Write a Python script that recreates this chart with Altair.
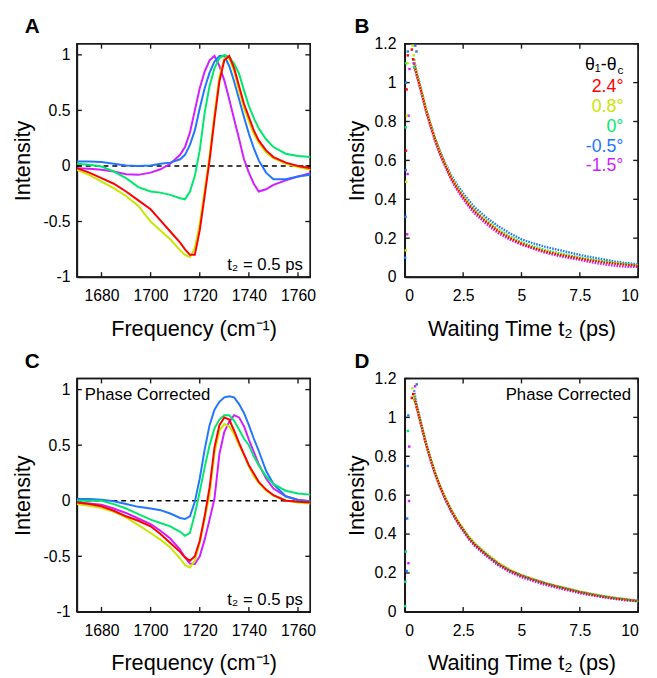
import altair as alt
import pandas as pd

FONT = "Liberation Sans"

series_names = ["2.4°", "0.8°", "0°", "-0.5°", "-1.5°"]
series_colors = ["#ff0000", "#c8e600", "#00e86b", "#2176ff", "#d21eff"]

# ---------------- Panel A / C : spectra ----------------
freq = [1670, 1675, 1680, 1685, 1690, 1695, 1700, 1704, 1708, 1712, 1714, 1716,
        1718, 1720, 1722, 1724, 1726, 1728, 1730, 1732, 1734, 1736, 1738, 1740,
        1742, 1744, 1747, 1750, 1755, 1760, 1765]

A_red = [-0.02, -0.06, -0.11, -0.16, -0.23, -0.31, -0.39, -0.49, -0.59, -0.69, -0.75, -0.80,
         -0.80, -0.58, -0.27, 0.05, 0.42, 0.76, 0.95, 0.99, 0.88, 0.72, 0.56, 0.44,
         0.32, 0.23, 0.14, 0.08, 0.03, 0.0, -0.02]
A_yellow = [-0.035, -0.08, -0.14, -0.20, -0.27, -0.36, -0.50, -0.58, -0.66, -0.76, -0.80, -0.82,
            -0.74, -0.52, -0.22, 0.09, 0.47, 0.80, 0.97, 0.97, 0.85, 0.68, 0.52, 0.40,
            0.29, 0.21, 0.12, 0.07, 0.02, -0.01, -0.035]
A_green = [0.02, 0.01, -0.005, -0.05, -0.11, -0.19, -0.23, -0.24, -0.26, -0.29, -0.30, -0.23,
           -0.09, 0.14, 0.48, 0.72, 0.88, 0.97, 1.0, 0.98, 0.92, 0.83, 0.68, 0.54,
           0.43, 0.34, 0.24, 0.17, 0.11, 0.09, 0.08]
A_blue = [0.04, 0.04, 0.035, 0.02, 0.005, 0.0, 0.005, 0.02, 0.03, 0.06, 0.10, 0.19,
          0.32, 0.52, 0.70, 0.84, 0.94, 0.99, 0.99, 0.90, 0.76, 0.60, 0.44, 0.29,
          0.16, 0.05, -0.06, -0.12, -0.12, -0.095, -0.08]
A_magenta = [-0.02, -0.025, -0.035, -0.05, -0.075, -0.08, -0.06, -0.03, 0.02, 0.10, 0.17, 0.30,
             0.50, 0.70, 0.85, 0.95, 0.99, 0.90, 0.77, 0.60, 0.42, 0.245, 0.06, -0.06,
             -0.16, -0.23, -0.21, -0.17, -0.13, -0.095, -0.065]

C_red = [-0.015, -0.03, -0.05, -0.09, -0.14, -0.18, -0.23, -0.30, -0.38, -0.46, -0.51, -0.54,
         -0.50, -0.36, -0.14, 0.12, 0.48, 0.68, 0.75, 0.73, 0.63, 0.52, 0.42, 0.32,
         0.245, 0.17, 0.10, 0.05, 0.0, -0.01, -0.015]
C_yellow = [-0.03, -0.045, -0.065, -0.10, -0.15, -0.22, -0.29, -0.35, -0.42, -0.52, -0.58, -0.60,
            -0.54, -0.38, -0.16, 0.05, 0.43, 0.63, 0.69, 0.67, 0.60, 0.50, 0.41, 0.31,
            0.22, 0.16, 0.09, 0.045, 0.005, -0.015, -0.025]
C_green = [0.0, 0.0, 0.0, -0.03, -0.07, -0.12, -0.17, -0.20, -0.23, -0.28, -0.315, -0.29,
           -0.12, 0.08, 0.30, 0.50, 0.65, 0.73, 0.77, 0.77, 0.72, 0.64, 0.56, 0.50,
           0.40, 0.32, 0.22, 0.15, 0.09, 0.065, 0.055]
C_blue = [0.015, 0.015, 0.01, -0.005, -0.03, -0.055, -0.07, -0.085, -0.115, -0.155, -0.165, -0.14,
          -0.01, 0.20, 0.46, 0.68, 0.82, 0.89, 0.93, 0.94, 0.93, 0.87, 0.79, 0.68,
          0.56, 0.45, 0.27, 0.15, 0.04, 0.005, -0.005]
C_magenta = [-0.015, -0.025, -0.035, -0.07, -0.11, -0.16, -0.21, -0.27, -0.34, -0.44, -0.51, -0.565,
             -0.57, -0.50, -0.35, -0.17, 0.02, 0.42, 0.62, 0.71, 0.77, 0.75, 0.67, 0.55,
             0.44, 0.33, 0.20, 0.11, 0.04, 0.01, -0.005]

# ---------------- Panel B / D : decays ----------------
t_grid = [0.4, 0.5, 0.7, 0.9, 1.1, 1.3, 1.5, 1.75, 2.0, 2.25, 2.5, 2.75, 3.0, 3.5,
          4.0, 4.5, 5.0, 5.5, 6.0, 6.5, 7.0, 7.5, 8.0, 8.5, 9.0, 9.5, 10.0]

B_red = [1.10, 1.045, 0.958, 0.862, 0.782, 0.706, 0.64, 0.57, 0.507, 0.456, 0.412, 0.372, 0.337, 0.283,
         0.236, 0.201, 0.172, 0.150, 0.132, 0.118, 0.106, 0.095, 0.085, 0.076, 0.069, 0.063, 0.058]
B_yellow = [1.12, 1.05, 0.962, 0.866, 0.786, 0.71, 0.644, 0.574, 0.511, 0.46, 0.417, 0.377, 0.342, 0.288,
            0.241, 0.206, 0.176, 0.154, 0.136, 0.122, 0.110, 0.098, 0.088, 0.079, 0.072, 0.065, 0.060]
B_green = [1.09, 1.05, 0.96, 0.865, 0.785, 0.71, 0.645, 0.575, 0.513, 0.463, 0.42, 0.38, 0.345, 0.292,
           0.245, 0.21, 0.18, 0.158, 0.14, 0.126, 0.113, 0.101, 0.091, 0.082, 0.074, 0.067, 0.062]
B_blue = [1.12, 1.06, 0.965, 0.87, 0.79, 0.715, 0.65, 0.582, 0.522, 0.473, 0.432, 0.393, 0.358, 0.306,
          0.262, 0.225, 0.194, 0.174, 0.156, 0.142, 0.128, 0.114, 0.102, 0.092, 0.080, 0.072, 0.066]
B_magenta = [1.08, 1.04, 0.95, 0.855, 0.774, 0.698, 0.632, 0.562, 0.498, 0.446, 0.401, 0.361, 0.326, 0.272,
             0.226, 0.193, 0.166, 0.146, 0.126, 0.111, 0.099, 0.088, 0.076, 0.066, 0.058, 0.053, 0.052]

D_red = [1.10, 1.06, 0.963, 0.868, 0.786, 0.711, 0.647, 0.578, 0.518, 0.466, 0.422, 0.379, 0.345, 0.293,
         0.246, 0.211, 0.185, 0.165, 0.146, 0.130, 0.116, 0.101, 0.089, 0.078, 0.069, 0.062, 0.055]
D_yellow = [1.12, 1.06, 0.967, 0.872, 0.79, 0.716, 0.652, 0.584, 0.525, 0.474, 0.43, 0.388, 0.354, 0.302,
            0.254, 0.218, 0.191, 0.17, 0.15, 0.134, 0.12, 0.105, 0.093, 0.082, 0.073, 0.065, 0.058]
D_green = [1.09, 1.058, 0.965, 0.87, 0.787, 0.712, 0.648, 0.579, 0.519, 0.467, 0.423, 0.38, 0.346, 0.294,
           0.247, 0.212, 0.186, 0.166, 0.147, 0.131, 0.117, 0.102, 0.09, 0.079, 0.07, 0.063, 0.052]
D_blue = [1.14, 1.07, 0.968, 0.872, 0.789, 0.714, 0.65, 0.581, 0.521, 0.469, 0.425, 0.382, 0.348, 0.296,
          0.249, 0.214, 0.188, 0.168, 0.149, 0.133, 0.119, 0.104, 0.092, 0.081, 0.072, 0.065, 0.057]
D_magenta = [1.11, 1.05, 0.958, 0.862, 0.78, 0.705, 0.641, 0.571, 0.511, 0.459, 0.415, 0.372, 0.338, 0.286,
             0.239, 0.204, 0.178, 0.158, 0.139, 0.124, 0.110, 0.096, 0.085, 0.075, 0.066, 0.059, 0.055]

# early (rise) points, read individually
B_rise_t = {"2.4°": [0.05, 0.08, 0.13, 0.30, 0.36],
            "0.8°": [0.04, 0.06, 0.09, 0.12, 0.34, 0.38],
            "0°": [0.04, 0.05, 0.35, 0.40],
            "-0.5°": [0.01, 0.03, 0.04, 0.05, 0.13, 0.45, 0.50],
            "-1.5°": [0.10, 0.12, 0.16, 0.20, 0.38]}
B_rise_v = {"2.4°": [0.65, 0.965, 1.14, 1.17, 1.12],
            "0.8°": [0.137, 0.49, 0.83, 1.10, 1.19, 1.14],
            "0°": [0.77, 1.10, 1.12, 1.08],
            "-0.5°": [0.10, 0.31, 0.55, 1.0, 1.16, 1.19, 1.16],
            "-1.5°": [0.22, 0.53, 0.83, 1.07, 1.10]}
D_rise_t = {"2.4°": [0.30, 0.36],
            "0.8°": [0.32, 0.35],
            "0°": [0.01, 0.02, 0.04, 0.13, 0.38],
            "-0.5°": [0.08, 0.10, 0.13, 0.15, 0.51],
            "-1.5°": [0.155, 0.18, 0.19, 0.44]}
D_rise_v = {"2.4°": [1.10, 1.12],
            "0.8°": [1.15, 1.10],
            "0°": [0.03, 0.155, 0.31, 0.93, 1.10],
            "-0.5°": [0.21, 0.48, 0.75, 1.01, 1.17],
            "-1.5°": [0.25, 0.57, 0.85, 1.16]}

legend_labels = ["2.4°", "0.8°", "0°", "-0.5°", "-1.5°"]
legend_y = [0.975, 0.875, 0.772, 0.671, 0.57]

spec_x_domain = [1670, 1765]
spec_y_domain = [-1, 1.1]
decay_x_domain = [0, 10]
decay_y_domain = [0, 1.2]
spec_x_ticks = [1680, 1700, 1720, 1740, 1760]
spec_y_ticks = [-1, -0.5, 0, 0.5, 1]
decay_x_ticks = [0, 2.5, 5, 7.5, 10]
decay_y_ticks = [0, 0.2, 0.4, 0.6, 0.8, 1, 1.2]

color_scale = alt.Scale(domain=series_names, range=series_colors)
draw_order = ["-1.5°", "-0.5°", "0°", "0.8°", "2.4°"]

FRAME = "#1a1a1a"
W = 237
H = 237
TL = 5  # tick length, px


def long_df(x, ydict, xname):
    rows = []
    for name in draw_order:
        for xv, yv in zip(x, ydict[name]):
            rows.append({xname: xv, "val": yv, "series": name})
    return pd.DataFrame(rows)


def rise_df(tdict, vdict):
    rows = []
    for name in draw_order:
        for tv, vv in zip(tdict[name], vdict[name]):
            rows.append({"t": tv, "val": vv, "series": name})
    return pd.DataFrame(rows)


def main_axis(values, title, label_pad, title_pad):
    return alt.Axis(values=values, title=title, ticks=False, domain=True, domainColor=FRAME,
                    domainWidth=1.5, grid=False,
                    labelPadding=label_pad, labelFontSize=16, labelFont=FONT, titleFont=FONT,
                    titleFontSize=22, titleFontWeight="normal", titlePadding=title_pad,
                    labelExpr="'' + datum.value", labelColor="black", titleColor="black")


class Enc:
    """Shared x/y encodings (same scale and same axis object in every layer)."""

    def __init__(self, xfield, xdom, ydom, xaxis, yaxis):
        self.xfield, self.xdom, self.ydom = xfield, xdom, ydom
        self.xs = alt.Scale(domain=xdom, nice=False, zero=False)
        self.ys = alt.Scale(domain=ydom, nice=False, zero=False)
        self.xaxis, self.yaxis = xaxis, yaxis

    def x(self):
        return alt.X(f"{self.xfield}:Q", scale=self.xs, axis=self.xaxis)

    def y(self):
        return alt.Y("val:Q", scale=self.ys, axis=self.yaxis)


def frame_and_ticks(e, xvals, yvals):
    """Plot box and inward ticks: one two-point line layer per segment, through the panel scales."""
    x0, x1 = e.xdom
    y0, y1 = e.ydom
    dx = TL * (x1 - x0) / W
    dy = TL * (y1 - y0) / H
    segs = [((x0, y1), (x1, y1)), ((x1, y0), (x1, y1)), ((x0, y0), (x1, y0)), ((x0, y0), (x0, y1))]
    for xv in xvals:
        segs.append(((xv, y0), (xv, y0 + dy)))
        segs.append(((xv, y1), (xv, y1 - dy)))
    for yv in yvals:
        segs.append(((x0, yv), (x0 + dx, yv)))
        segs.append(((x1, yv), (x1 - dx, yv)))
    out = []
    for (xa, ya), (xb, yb) in segs:
        df = pd.DataFrame({e.xfield: [xa, xb], "val": [ya, yb]})
        out.append(alt.Chart(df).mark_line(color=FRAME, strokeWidth=1.4).encode(x=e.x(), y=e.y()))
    return out


def letter_layer(letter, dx):
    return alt.Chart(pd.DataFrame({"txt": [letter]})).mark_text(
        font=FONT, fontSize=21, fontWeight="bold", align="left", baseline="middle", color="black").encode(
        x=alt.value(dx), y=alt.value(-17), text="txt:N")


def text_layer(e, xv, yv, txt, **kw):
    return alt.Chart(pd.DataFrame({e.xfield: [xv], "val": [yv], "txt": [txt]})).mark_text(
        font=FONT, color="black", **kw).encode(x=e.x(), y=e.y(), text="txt:N")


def spectrum_panel(ydict, letter, show_phase):
    e = Enc("freq", spec_x_domain, spec_y_domain,
            main_axis(spec_x_ticks, "Frequency (cm⁻¹)", 11, 15),
            main_axis(spec_y_ticks, "Intensity", 7, 9))
    df = long_df(freq, ydict, "freq")
    lines = alt.Chart(df).mark_line(strokeWidth=2).encode(
        x=e.x(), y=e.y(),
        color=alt.Color("series:N", scale=color_scale, legend=None),
        detail="series:N",
    )
    zero = alt.Chart(pd.DataFrame({"freq": spec_x_domain, "val": [0, 0]})).mark_line(
        color="black", strokeDash=[5, 4], strokeWidth=1.6).encode(x=e.x(), y=e.y())
    layers = frame_and_ticks(e, spec_x_ticks, spec_y_ticks)
    layers += [zero, lines]
    layers.append(text_layer(e, 1762, -0.89, "t₂ = 0.5 ps", align="right", baseline="middle", fontSize=17))
    if show_phase:
        layers.append(text_layer(e, 1673.2, 0.947, "Phase Corrected", align="left", baseline="middle",
                                 fontSize=17))
    layers.append(letter_layer(letter, -53))
    return alt.layer(*layers).properties(width=W, height=H)


def decay_panel(ydict, tdict, vdict, letter, show_legend, show_phase):
    e = Enc("t", decay_x_domain, decay_y_domain,
            main_axis(decay_x_ticks, "Waiting Time t₂ (ps)", 11, 15),
            main_axis(decay_y_ticks, "Intensity", 9, 6))
    df = long_df(t_grid, ydict, "t")
    lines = alt.Chart(df).mark_line(strokeWidth=2.3, strokeDash=[1.6, 1.2]).encode(
        x=e.x(), y=e.y(),
        color=alt.Color("series:N", scale=color_scale, legend=None),
        detail="series:N",
    )
    pts = alt.Chart(rise_df(tdict, vdict)).mark_square(size=6, opacity=1).encode(
        x=e.x(), y=e.y(), color=alt.Color("series:N", scale=color_scale, legend=None))
    layers = frame_and_ticks(e, decay_x_ticks, decay_y_ticks)
    layers += [lines, pts]
    if show_legend:
        leg = pd.DataFrame({"t": [9.37] * len(legend_labels), "val": legend_y,
                            "txt": legend_labels, "series": legend_labels})
        legtext = alt.Chart(leg).mark_text(align="right", baseline="middle", fontSize=18, font=FONT).encode(
            x=e.x(), y=e.y(), text="txt:N",
            color=alt.Color("series:N", scale=color_scale, legend=None))
        layers.append(legtext)
        layers.append(text_layer(e, 9.37, 1.092, "θ₁-θ", align="right", baseline="middle",
                                 fontSize=18, dx=-7))
        layers.append(text_layer(e, 9.37, 1.092, "c", align="right", baseline="middle",
                                 fontSize=12, dy=5))
    if show_phase:
        layers.append(text_layer(e, 9.70, 1.117, "Phase Corrected", align="right", baseline="middle",
                                 fontSize=17))
    layers.append(letter_layer(letter, -51))
    return alt.layer(*layers).properties(width=W, height=H)


A = spectrum_panel({"2.4°": A_red, "0.8°": A_yellow, "0°": A_green, "-0.5°": A_blue, "-1.5°": A_magenta}, "A", False)
C = spectrum_panel({"2.4°": C_red, "0.8°": C_yellow, "0°": C_green, "-0.5°": C_blue, "-1.5°": C_magenta}, "C", True)
B = decay_panel({"2.4°": B_red, "0.8°": B_yellow, "0°": B_green, "-0.5°": B_blue, "-1.5°": B_magenta},
                B_rise_t, B_rise_v, "B", True, False)
D = decay_panel({"2.4°": D_red, "0.8°": D_yellow, "0°": D_green, "-0.5°": D_blue, "-1.5°": D_magenta},
                D_rise_t, D_rise_v, "D", False, True)

chart = alt.concat(A, B, C, D, columns=2, spacing={"row": 103, "column": 96}, bounds="flush").properties(
    padding={"left": 2, "top": 2, "right": 5, "bottom": 5}).configure(
    font=FONT).configure_view(stroke=FRAME, strokeWidth=1.5)

chart.save("out.html", embed_options={"renderer": "svg", "actions": False})
